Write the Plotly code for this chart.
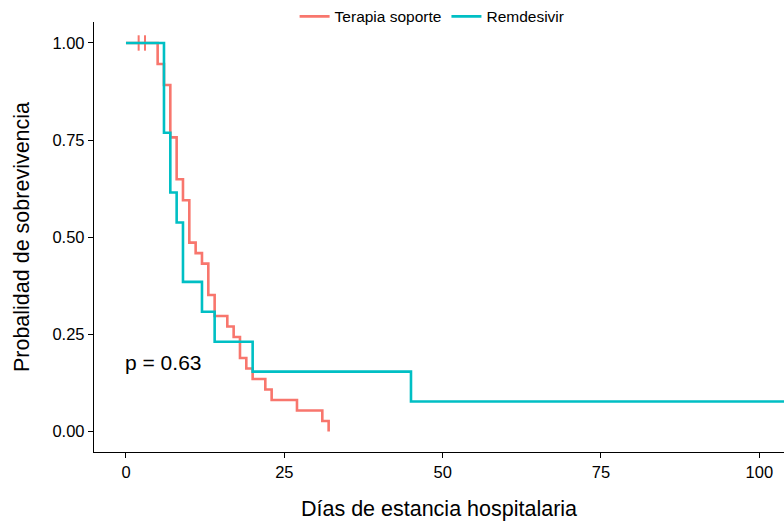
import plotly.graph_objects as go

# Kaplan-Meier survival estimates by group (time in days, survival probability)
soporte_t = [0, 5, 6, 7, 8, 9, 10, 11, 12, 13, 14, 16, 17, 18, 19, 20, 22, 23, 27, 31, 32]
soporte_s = [1.0, 0.946, 0.892, 0.757, 0.649, 0.595, 0.486, 0.459, 0.432, 0.351, 0.297,
             0.270, 0.243, 0.189, 0.162, 0.135, 0.108, 0.081, 0.054, 0.027, 0.0]
soporte_cens_t = [2, 3]
soporte_cens_s = [1.0, 1.0]

remdesivir_t = [0, 6, 7, 8, 9, 12, 14, 20, 45, 110]
remdesivir_s = [1.0, 0.769, 0.615, 0.538, 0.385, 0.308, 0.231, 0.154, 0.077, 0.077]
remdesivir_cens_t = [110]
remdesivir_cens_s = [0.077]

group_names = ["Terapia soporte", "Remdesivir"]
group_colors = ["#F8766D", "#00BFC4"]
x_ticks = [0, 25, 50, 75, 100]
y_ticks = [0.0, 0.25, 0.5, 0.75, 1.0]
y_tick_text = ["0.00", "0.25", "0.50", "0.75", "1.00"]
p_label = "p = 0.63"

FONT = "Liberation Sans, Arial, Helvetica, sans-serif"

fig = go.Figure()

curves = [
    (soporte_t, soporte_s, soporte_cens_t, soporte_cens_s),
    (remdesivir_t, remdesivir_s, remdesivir_cens_t, remdesivir_cens_s),
]
for name, color, (t, s, ct, cs) in zip(group_names, group_colors, curves):
    fig.add_trace(go.Scatter(
        x=t, y=s, mode="lines", name=name, legendgroup=name,
        line=dict(color=color, width=2.6, shape="hv"),
        cliponaxis=True,
    ))
    fig.add_trace(go.Scatter(
        x=ct, y=cs, mode="markers", name=name, legendgroup=name, showlegend=False,
        marker=dict(symbol="line-ns", size=11, line=dict(color=color, width=2)),
        cliponaxis=True,
    ))

fig.add_annotation(
    x=0, y=0.177, xref="x", yref="y", text=p_label, showarrow=False,
    xanchor="left", yanchor="middle", xshift=-3,
    font=dict(family=FONT, size=21, color="black"),
)

fig.update_layout(
    width=784, height=527,
    margin=dict(l=94, r=0, t=22, b=75, autoexpand=False),
    plot_bgcolor="white", paper_bgcolor="white",
    font=dict(family=FONT, color="black"),
    showlegend=True,
    legend=dict(
        orientation="h", x=0.49, y=1.012, xanchor="center", yanchor="middle",
        font=dict(family=FONT, size=15.5, color="black"),
        bgcolor="rgba(0,0,0,0)", itemwidth=30, tracegroupgap=0,
    ),
)

fig.update_xaxes(
    range=[-5.05, 103.9], tickvals=x_ticks, ticktext=[str(v) for v in x_ticks],
    showline=True, linecolor="black", linewidth=1.3, mirror=False,
    ticks="outside", ticklen=5, tickwidth=1.2, tickcolor="black",
    showgrid=False, zeroline=False,
    tickfont=dict(family=FONT, size=16.5, color="black"),
    title=dict(text="Días de estancia hospitalaria", standoff=20,
               font=dict(family=FONT, size=21.5, color="black")),
)
fig.update_yaxes(
    range=[-0.053, 1.054], tickvals=y_ticks, ticktext=y_tick_text,
    showline=True, linecolor="black", linewidth=1.3, mirror=False,
    ticks="outside", ticklen=5, tickwidth=1.2, tickcolor="black",
    showgrid=False, zeroline=False,
    tickfont=dict(family=FONT, size=16.5, color="black"),
    title=dict(text="Probalidad de sobrevivencia", standoff=16,
               font=dict(family=FONT, size=21.5, color="black")),
)

fig.write_html("out.html")
